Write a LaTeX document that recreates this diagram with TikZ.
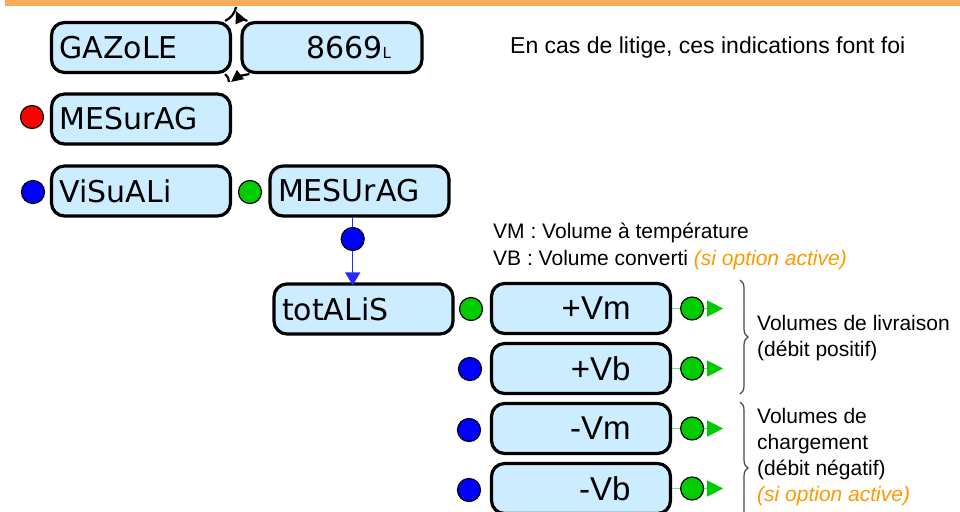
\documentclass[tikz,border=0pt]{standalone}
\usepackage{fontspec}
\setmainfont{Liberation Sans}
\newfontfamily\boitefont{DejaVu Sans}
\usetikzlibrary{arrows.meta,decorations.pathreplacing}
\definecolor{bandeau}{RGB}{252,170,88}
\definecolor{bleuclair}{RGB}{204,236,255}
\definecolor{vert}{RGB}{0,204,0}
\definecolor{vertclair}{RGB}{110,225,110}
\definecolor{bleutrait}{RGB}{40,40,255}
\definecolor{orangetxt}{RGB}{255,153,0}
\definecolor{accolade}{RGB}{70,70,70}
\tikzset{
  boite/.style={draw, line width=3.2pt, fill=bleuclair, rounded corners=13pt,
    minimum height=50pt, inner ysep=0pt, font=\boitefont\fontsize{30}{30}\selectfont},
  nom/.style={boite, text width=163pt, inner xsep=8pt, align=left},
  valeur/.style={boite, text width=99pt, inner xsep=40pt, align=right,
    font=\fontsize{33}{33}\selectfont},
  pastille/.style={circle, draw, line width=1.2pt, minimum size=23pt, inner sep=0pt},
  sortie/.style={vertclair, line width=1.5pt, -{Triangle[length=16pt,width=16pt,color=vert]}},
  bascule/.style={line width=2.2pt},
  texte/.style={anchor=base west, inner sep=0pt, font=\fontsize{21}{21}\selectfont},
}
\begin{document}
\begin{tikzpicture}[x=1pt,y=-1pt]
	\useasboundingbox (0,0) rectangle (960,511);
	\clip (0,0) rectangle (960,511);
	\fill[bandeau] (5,0) rectangle (960,6);

	\node[nom] (gazole) at (141,47.5) {GAZoLE};
	\node[boite, text width=118pt, inner xsep=31pt, align=right] (volume) at (332,47.5) {8669{\fontsize{15}{15}\selectfont L}};
	\coordinate (hautfl) at (236,11);
	\coordinate (basfl) at (231,82);
	\draw[bascule] ([xshift=-7pt]gazole.north east) to[bend right=25] ([yshift=4pt]hautfl);
	\draw[bascule, -{Triangle[length=12pt,width=11pt]}] ([xshift=7pt]volume.north west) to[bend left=25] (hautfl);
	\draw[bascule] ([xshift=-7pt]gazole.south east) to[bend left=25] ([xshift=-2pt]basfl);
	\draw[bascule, -{Triangle[length=12pt,width=11pt]}] ([xshift=9pt]volume.south west) to[bend right=15] (basfl);

	\node[nom] (mesurag) at (141,119) {MESurAG};
	\node[pastille, fill=red] (prouge) at (32,117) {};

	\node[nom] (visuali) at (141,191) {ViSuALi};
	\node[pastille, fill=blue] (pvisu) at (33,192) {};
	\node[pastille, fill=vert] (pmes) at (250,192) {};
	\node[nom] (mesurag2) at (359.5,191) {MESUrAG};

	% passage vers les totaux
	\node[pastille, fill=blue] (ptot) at (352.7,239) {};
	\node[nom] (totalis) at (363.5,309) {totALiS};
	\draw[bleutrait, line width=1.2pt] (mesurag2.south -| ptot) -- (ptot.north);
	\draw[bleutrait, line width=1.2pt, -{Triangle[length=13pt,width=15pt]}] (ptot.south) -- ([yshift=-3pt]totalis.north -| ptot);

	\node[valeur] (pvm) at (581,308.5) {+Vm};
	\node[valeur] (pvb) at (581,368.5) {+Vb};
	\node[valeur] (mvm) at (581,428.5) {-Vm};
	\node[valeur] (mvb) at (581,488.5) {-Vb};
	\node[pastille, fill=vert] (ppvm) at (471,309) {};
	\node[pastille, fill=blue] (ppvb) at (470,369) {};
	\node[pastille, fill=blue] (pmvm) at (469,430) {};
	\node[pastille, fill=blue] (pmvb) at (469,490) {};

	% sorties
	\foreach \b in {pvm,pvb,mvm,mvb} {
		\coordinate (fin\b) at ([xshift=51pt]\b.east);
		\draw[sortie] (\b.east) -- (fin\b);
		\node[pastille, fill=vert] (s\b) at ([xshift=20pt]\b.east) {};
	}

	\draw[accolade, line width=1.2pt, decorate, decoration={brace, amplitude=8pt}] (740,280) -- (740,394);
	\draw[accolade, line width=1.2pt, decorate, decoration={brace, amplitude=8pt}] (740,402) -- (740,534);

	\node[texte, font=\fontsize{23}{23}\selectfont] (litige) at (510,53) {En cas de litige, ces indications font foi};
	\node[texte] (vm) at (493,238) {VM : Volume à température};
	\node[texte] (vb) at (493,265) {VB : Volume converti \textcolor{orangetxt}{\itshape (si option active)}};
	\node[texte] (livr1) at (757,330) {Volumes de livraison};
	\node[texte] (livr2) at (757,356) {(débit positif)};
	\node[texte] (charg1) at (757,423) {Volumes de};
	\node[texte] (charg2) at (757,449) {chargement};
	\node[texte] (charg3) at (757,475) {(débit négatif)};
	\node[texte, orangetxt, font=\fontsize{21}{21}\selectfont\itshape] (charg4) at (757,501) {(si option active)};
\end{tikzpicture}
\end{document}
